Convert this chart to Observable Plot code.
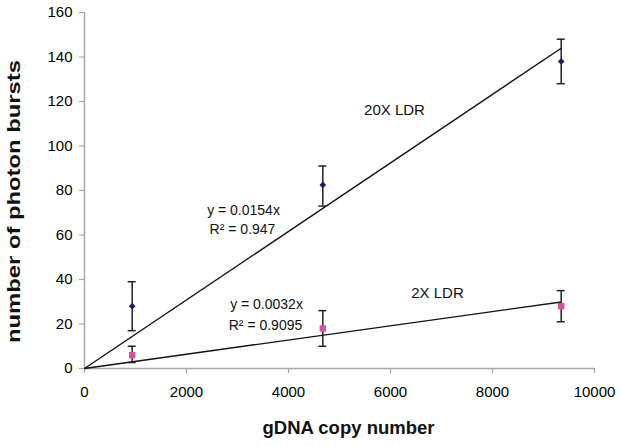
<!DOCTYPE html>
<html><head><meta charset="utf-8">
<script src="https://cdn.jsdelivr.net/npm/d3@7"></script>
<script src="https://cdn.jsdelivr.net/npm/@observablehq/plot@0.6"></script>
<style>
html,body{margin:0;padding:0;background:#fff;}
g[aria-label^="x-axis"] text, g[aria-label^="y-axis"] text {font-size:15px; fill:#000;}
g[aria-label^="x-axis"] line, g[aria-label^="x-axis"] path, g[aria-label^="y-axis"] line, g[aria-label^="y-axis"] path {stroke:#a8a8a8; stroke-width:1.2px;}
</style></head><body><div id="chart"></div>
<script>
const copyNumber = [935, 4673, 9347];
const bursts20X = [28, 82.5, 138];
const low20X = [17, 73, 128];
const high20X = [39, 91, 148];
const bursts2X = [6, 18, 28];
const low2X = [2.7, 10, 21];
const high2X = [10, 26, 35];
const slopes = [0.0154, 0.0032];
const xTicks = [0, 2000, 4000, 6000, 8000, 10000];
const yTicks = [0, 20, 40, 60, 80, 100, 120, 140, 160];
const labelText = ["20X LDR", "y = 0.0154x", "R\u00B2 = 0.947", "2X LDR", "y = 0.0032x", "R\u00B2 = 0.9095"];
const labelX = [6078, 3118, 3098, 6922, 3569, 3549];
const labelY = [116, 71, 62.5, 33.7, 28.8, 19.3];
const labelSize = [15, 14, 14, 15, 14, 14];
const xTitle = "gDNA copy number";
const yTitle = "number of photon bursts";

const rows20 = copyNumber.map((x, i) => ({x, y: bursts20X[i], lo: low20X[i], hi: high20X[i]}));
const rows2 = copyNumber.map((x, i) => ({x, y: bursts2X[i], lo: low2X[i], hi: high2X[i]}));
const allRows = rows20.concat(rows2);
const xLast = copyNumber[copyNumber.length - 1];
const trends = slopes.map(s => ({x1: 0, y1: 0, x2: xLast, y2: s * xLast}));
const labels = labelText.map((t, i) => ({t, x: labelX[i], y: labelY[i], s: labelSize[i]}));

const errColor = "#222";
const svg = Plot.plot({
  width: 621, height: 446,
  marginLeft: 84, marginRight: 27, marginTop: 12, marginBottom: 78,
  style: {fontFamily: "Liberation Sans, Arial, sans-serif", background: "white", color: "black"},
  x: {domain: [0, 10000], ticks: xTicks, tickFormat: d => String(d), tickSize: 5, tickPadding: 13, label: null},
  y: {domain: [0, 160], ticks: yTicks, tickFormat: d => String(d), tickSize: 5, tickPadding: 7, label: null},
  marks: [
    Plot.ruleY([0], {stroke: "#a8a8a8", strokeWidth: 1.5}),
    Plot.ruleX([0], {stroke: "#a8a8a8", strokeWidth: 1.5}),
    Plot.link(trends, {x1: "x1", y1: "y1", x2: "x2", y2: "y2", stroke: "#111", strokeWidth: 1.4}),
    Plot.ruleX(allRows, {x: "x", y1: "lo", y2: "hi", stroke: errColor, strokeWidth: 1.5}),
    Plot.ruleY(allRows, {y: "lo", x1: "x", x2: "x", insetLeft: -4, insetRight: -4, stroke: errColor, strokeWidth: 1.5}),
    Plot.ruleY(allRows, {y: "hi", x1: "x", x2: "x", insetLeft: -4, insetRight: -4, stroke: errColor, strokeWidth: 1.5}),
    Plot.dot(rows20, {x: "x", y: "y", symbol: "diamond2", r: 3, fill: "#1c1c6e", stroke: "none"}),
    Plot.dot(rows2, {x: "x", y: "y", symbol: "square", r: 3.6, fill: "#d9509f", stroke: "none"}),
    Plot.text(labels, {x: "x", y: "y", text: "t", fontSize: d => d.s, fill: "#111"}),
    Plot.text([xTitle], {frameAnchor: "bottom", dx: 9, dy: 65, fontSize: 18.5, fontWeight: "bold", fill: "#111"}),
    Plot.text([yTitle], {frameAnchor: "left", dx: -70, dy: 152.5, rotate: -90, textAnchor: "start", fontSize: 18.5, fontWeight: "bold", fill: "#111"})
  ]
});
d3.select(svg).selectAll("text").filter(function () { return this.textContent === yTitle; })
  .attr("textLength", 283).attr("lengthAdjust", "spacingAndGlyphs");
document.getElementById("chart").appendChild(svg);
</script></body></html>
